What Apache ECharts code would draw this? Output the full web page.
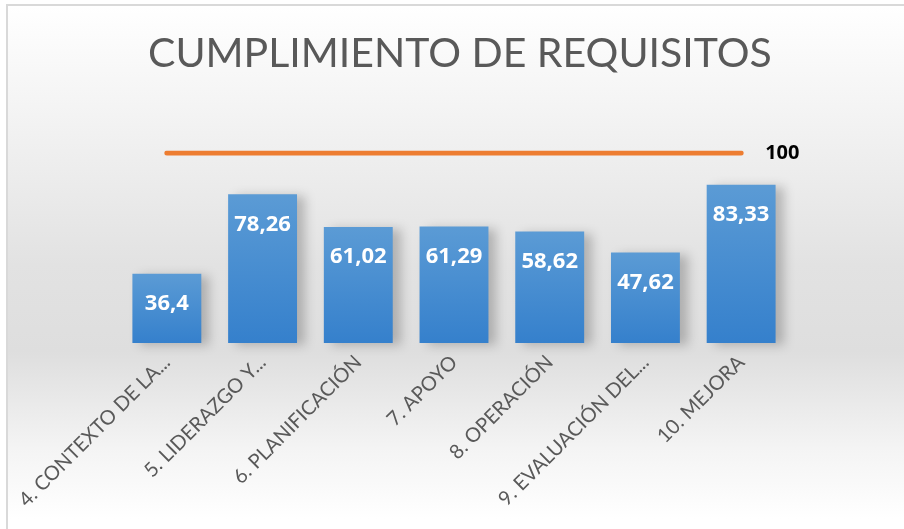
<!DOCTYPE html>
<html>
<head>
<meta charset="utf-8">
<script src="https://cdn.jsdelivr.net/npm/echarts@6/dist/echarts.min.js"></script>
<style>
  html, body { margin: 0; padding: 0; background: #fff; }
  #frame {
    position: absolute; left: 6px; top: 4px; width: 920px; height: 540px;
    border-left: 2px solid #d9d9d9; border-top: 2px solid #d9d9d9;
    background: linear-gradient(to bottom, #ffffff 0%, #f2f2f2 22%, #e2e2e2 48%, #dedede 64%, #f4f4f4 82%, #ffffff 95%);
  }
  #chart { position: absolute; left: 0; top: 0; width: 904px; height: 529px; }
</style>
</head>
<body>
<div id="frame"></div>
<div id="chart"></div>
<script>
// datos
const categorias = ['4. CONTEXTO DE LA...', '5. LIDERAZGO Y...', '6. PLANIFICACIÓN', '7. APOYO', '8. OPERACIÓN', '9. EVALUACIÓN DEL...', '10. MEJORA']
const cumplimiento = [36.4, 78.26, 61.02, 61.29, 58.62, 47.62, 83.33]
const meta = [100, 100, 100, 100, 100, 100, 100]

const myChart = echarts.init(document.getElementById('chart'))
const fmt = (v) => String(v).replace('.', ',')

const option = {
  backgroundColor: 'transparent',
  animation: false,
  title: {
    text: 'CUMPLIMIENTO DE REQUISITOS',
    left: 148,
    top: 33,
    padding: 0,
    textStyle: { fontFamily: 'Lato', fontWeight: 'normal', fontSize: 41, color: '#595959' }
  },
  grid: { left: 119, right: 115, top: 153, bottom: 186 },
  xAxis: {
    type: 'category',
    data: categorias,
    axisLine: { show: false },
    axisTick: { show: false },
    axisLabel: {
      rotate: 45,
      margin: 16,
      interval: 0,
      fontFamily: 'Lato',
      fontSize: 20,
      color: '#595959'
    }
  },
  yAxis: {
    type: 'value',
    min: 0,
    max: 100,
    show: false
  },
  series: [
    {
      type: 'bar',
      data: cumplimiento,
      barWidth: '72%',
      itemStyle: {
        color: new echarts.graphic.LinearGradient(0, 0, 0, 1, [
          { offset: 0, color: '#5b9bd5' },
          { offset: 1, color: '#3580cc' }
        ]),
        shadowColor: 'rgba(0,0,0,0.22)',
        shadowBlur: 10,
        shadowOffsetX: 8,
        shadowOffsetY: 2
      },
      label: {
        show: true,
        position: 'insideTop',
        distance: 19,
        color: '#fff',
        fontFamily: 'Open Sans',
        fontWeight: 'bold',
        fontSize: 22,
        formatter: (p) => fmt(p.value)
      }
    },
    {
      type: 'line',
      data: meta,
      symbol: 'none',
      lineStyle: { color: '#ed7d31', width: 5, cap: 'round' },
      label: { show: false },
      endLabel: {
        show: true,
        distance: 24,
        color: '#000',
        fontFamily: 'Open Sans',
        fontWeight: 'bold',
        fontSize: 20,
        formatter: (p) => fmt(p.value)
      }
    }
  ]
}
myChart.setOption(option)
</script>
</body>
</html>
